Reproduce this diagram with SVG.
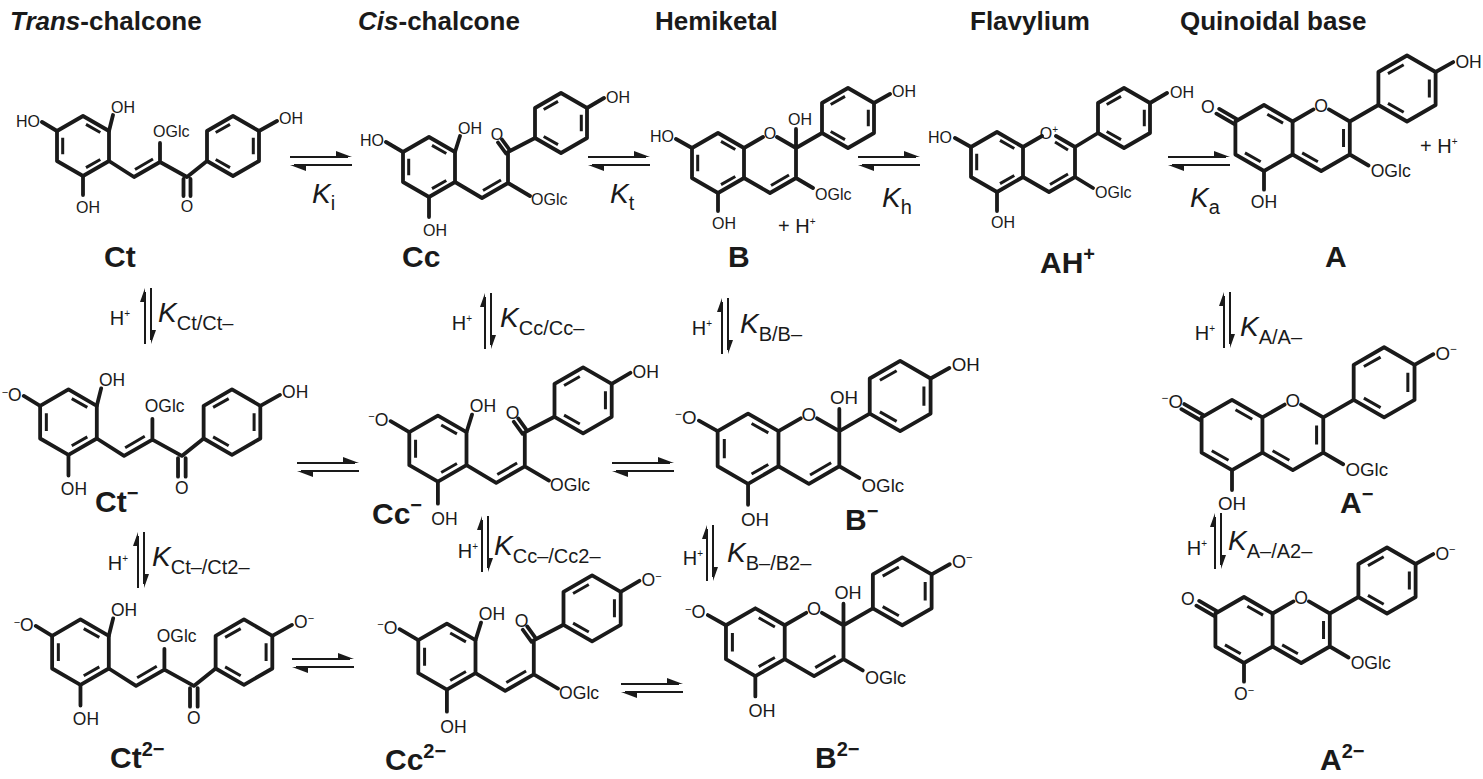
<svg xmlns="http://www.w3.org/2000/svg" xmlns:xlink="http://www.w3.org/1999/xlink" width="1483" height="779" viewBox="0 0 1483 779">
<style>
path,line{vector-effect:non-scaling-stroke}
.sk{fill:none;stroke:#1a1a1a;stroke-width:3.8;stroke-linejoin:round;stroke-linecap:round}
.in{fill:none;stroke:#1a1a1a;stroke-width:3;stroke-linecap:butt}
text{font-family:"Liberation Sans",Arial,sans-serif;fill:#1a1a1a}
.a{font-size:16px}
.s{font-size:10px}
.h{font-size:26px;font-weight:bold}
.lb{font-size:30px;font-weight:bold}
.ls{font-size:20px}
.k{font-size:28px;font-style:italic}
.kb{font-size:20px;font-style:normal}
.hp{font-size:20px}
.arr{stroke:#1a1a1a;stroke-width:2;fill:none}
.ah{fill:#1a1a1a}
</style>
<defs>
<path id="hex" d="M0,-30 L26,-15 L26,15 L0,30 L-26,15 L-26,-15 Z"/>
<path id="inA" d="M3,-21.6 L17.3,-13.5 M17.3,13.5 L3,21.6 M-20.3,8.2 L-20.3,-8.2"/>
<path id="inB" d="M20.3,-8.2 L20.3,8.2 M-3,21.6 L-17.3,13.5 M-17.3,-13.5 L-3,-21.6"/>
<g id="ctSk">
<use href="#hex" x="83" y="146" class="sk"/><use href="#inA" x="83" y="146" class="in"/>
<use href="#hex" x="233" y="146" class="sk"/><use href="#inB" x="233" y="146" class="in"/>
<path class="sk" d="M57,131 L42,122 M109,131 L113,115 M83,176 L83,195 M109,161 L134,177 L160,162 L187,177 L207,161 M160,162 L160,143 M183.5,179 V196 M190.5,179 V196 M259,131 L277,121"/>
<path class="in" d="M135,169.5 L153,159"/>
</g>
<g id="ccSk">
<use href="#hex" x="429" y="167" class="sk"/><use href="#inA" x="429" y="167" class="in"/>
<use href="#hex" x="561" y="123" class="sk"/><use href="#inB" x="561" y="123" class="in"/>
<path class="sk" d="M403,152 L386,142 M455,152 L460,136 M429,197 V217 M455,182 L482,198 L508,183 L530,196 M508,183 V152 L535,138 M510,150.5 L502,139.5 M506,153.5 L498,142.5 M587,108 L604,98"/>
<path class="in" d="M483,190.5 L501,180"/>
</g>
<g id="bSk">
<use href="#hex" x="718" y="163" class="sk"/><use href="#inA" x="718" y="163" class="in"/>
<use href="#hex" x="848" y="118" class="sk"/><use href="#inB" x="848" y="118" class="in"/>
<path class="sk" d="M744,148 L763,137 M777,137 L796,148 L796,178 L770,193 L744,178 M796,148 L822,133 M796,148 V129 M692,148 L676,139 M718,193 V211 M796,178 L813,188 M874,103 L890,94"/>
<path class="in" d="M789,175 L771,185.5"/>
</g>
<g id="ahSk">
<use href="#hex" x="997" y="162" class="sk"/><use href="#inA" x="997" y="162" class="in"/>
<use href="#hex" x="1124" y="118" class="sk"/><use href="#inB" x="1124" y="118" class="in"/>
<path class="sk" d="M1023,147 L1042,136 M1056,136 L1075,147 L1075,177 L1049,192 L1023,177 M1075,147 L1098,133 M971,147 L955,138 M997,192 V211 M1075,177 L1093,188 M1150,103 L1167,93"/>
<path class="in" d="M1055,142 L1068,150 M1068,174 L1050,184.5"/>
</g>
<g id="aSk">
<use href="#hex" class="sk"/>
<path class="in" d="M3,-21.6 L17.3,-13.5 M-3,21.6 L-17.3,13.5 M72.3,-8.2 V8.2 M49,21.6 L34.7,13.5"/>
<use href="#hex" x="130" y="-45" class="sk"/><use href="#inB" x="130" y="-45" class="in"/>
<path class="sk" d="M26,-15 L45,-26 M59,-26 L78,-15 L78,15 L52,30 L26,15 M78,-15 L104,-30 M-24.75,-17.17 L-40.75,-26.4 M-27.25,-12.83 L-43.25,-22.1 M0,30 V47 M78,15 L95,25 M156,-60 L172,-69"/>
</g>
<g id="heq">
<line class="arr" x1="0" y1="0" x2="58" y2="0"/><path class="ah" d="M62,0 L46,-6 L46,0 Z"/>
<line class="arr" x1="4" y1="8" x2="62" y2="8"/><path class="ah" d="M0,8 L16,14 L16,8 Z"/>
</g>
<g id="veq">
<line class="arr" x1="0" y1="4" x2="0" y2="56"/><path class="ah" d="M0,0 L-5,14 L0,14 Z"/>
<line class="arr" x1="6" y1="0" x2="6" y2="52"/><path class="ah" d="M6,56 L11,42 L6,42 Z"/>
</g>
</defs>

<g id="headers">
<text class="h" x="10" y="30"><tspan font-style="italic">Trans</tspan>-chalcone</text>
<text class="h" x="358" y="30"><tspan font-style="italic">Cis</tspan>-chalcone</text>
<text class="h" x="655" y="30">Hemiketal</text>
<text class="h" x="970" y="30">Flavylium</text>
<text class="h" x="1180" y="30">Quinoidal base</text>
</g>

<g id="Ct">
<use href="#ctSk"/>
<text class="a" x="40" y="127" text-anchor="end">HO</text>
<text class="a" x="111" y="113">OH</text>
<text class="a" x="76" y="213">OH</text>
<text class="a" x="153" y="137">OGlc</text>
<text class="a" x="187" y="212" text-anchor="middle">O</text>
<text class="a" x="279" y="124">OH</text>
<text class="lb" x="104" y="267">Ct</text>
</g>
<g id="CtM">
<g transform="translate(-22,263) scale(1.09)">
<use href="#ctSk"/>
<text class="a" x="40" y="127" text-anchor="end"><tspan class="s" dy="-5">−</tspan><tspan dy="5">O</tspan></text>
<text class="a" x="111" y="113">OH</text>
<text class="a" x="76" y="213">OH</text>
<text class="a" x="153" y="137">OGlc</text>
<text class="a" x="187" y="212" text-anchor="middle">O</text>
<text class="a" x="279" y="124">OH</text>
</g>
<text class="lb" x="95" y="512">Ct<tspan class="ls" dy="-12">−</tspan></text>
</g>
<g id="Ct2M">
<g transform="translate(-10,493) scale(1.09)">
<use href="#ctSk"/>
<text class="a" x="40" y="127" text-anchor="end"><tspan class="s" dy="-5">−</tspan><tspan dy="5">O</tspan></text>
<text class="a" x="111" y="113">OH</text>
<text class="a" x="76" y="213">OH</text>
<text class="a" x="153" y="137">OGlc</text>
<text class="a" x="187" y="212" text-anchor="middle">O</text>
<text class="a" x="279" y="124">O<tspan class="s" dy="-6">−</tspan></text>
</g>
<text class="lb" x="110" y="768">Ct<tspan class="ls" dy="-12">2−</tspan></text>
</g>

<g id="Cc">
<use href="#ccSk"/>
<text class="a" x="384" y="146" text-anchor="end">HO</text>
<text class="a" x="458" y="134">OH</text>
<text class="a" x="423" y="236">OH</text>
<text class="a" x="531" y="205">OGlc</text>
<text class="a" x="497" y="140" text-anchor="middle">O</text>
<text class="a" x="606" y="103">OH</text>
<text class="lb" x="402" y="267">Cc</text>
</g>
<g id="CcM">
<g transform="translate(-34,265) scale(1.1)">
<use href="#ccSk"/>
<text class="a" x="384" y="146" text-anchor="end"><tspan class="s" dy="-5">−</tspan><tspan dy="5">O</tspan></text>
<text class="a" x="458" y="134">OH</text>
<text class="a" x="423" y="236">OH</text>
<text class="a" x="531" y="205">OGlc</text>
<text class="a" x="497" y="140" text-anchor="middle">O</text>
<text class="a" x="606" y="103">OH</text>
</g>
<text class="lb" x="372" y="524">Cc<tspan class="ls" dy="-12">−</tspan></text>
</g>
<g id="Cc2M">
<g transform="translate(-25,473) scale(1.1)">
<use href="#ccSk"/>
<text class="a" x="384" y="146" text-anchor="end"><tspan class="s" dy="-5">−</tspan><tspan dy="5">O</tspan></text>
<text class="a" x="458" y="134">OH</text>
<text class="a" x="423" y="236">OH</text>
<text class="a" x="531" y="205">OGlc</text>
<text class="a" x="497" y="140" text-anchor="middle">O</text>
<text class="a" x="606" y="103">O<tspan class="s" dy="-6">−</tspan></text>
</g>
<text class="lb" x="385" y="770">Cc<tspan class="ls" dy="-12">2−</tspan></text>
</g>

<g id="B">
<use href="#bSk"/>
<text class="a" x="770" y="139" text-anchor="middle">O</text>
<text class="a" x="788" y="125">OH</text>
<text class="a" x="674" y="142" text-anchor="end">HO</text>
<text class="a" x="712" y="229">OH</text>
<text class="a" x="815" y="200">OGlc</text>
<text class="a" x="892" y="97">OH</text>
<text class="hp" x="778" y="233">+ H<tspan class="s" dy="-8" font-size="13">+</tspan></text>
<text class="lb" x="728" y="267">B</text>
</g>
<g id="BM">
<g transform="translate(-92,258) scale(1.17)">
<use href="#bSk"/>
<text class="a" x="770" y="139" text-anchor="middle">O</text>
<text class="a" x="788" y="125">OH</text>
<text class="a" x="674" y="142" text-anchor="end"><tspan class="s" dy="-5">−</tspan><tspan dy="5">O</tspan></text>
<text class="a" x="712" y="229">OH</text>
<text class="a" x="815" y="200">OGlc</text>
<text class="a" x="892" y="97">OH</text>
</g>
<text class="lb" x="845" y="530">B<tspan class="ls" dy="-12">−</tspan></text>
</g>
<g id="B2M">
<g transform="translate(-56,458) scale(1.13)">
<use href="#bSk"/>
<text class="a" x="770" y="139" text-anchor="middle">O</text>
<text class="a" x="788" y="125">OH</text>
<text class="a" x="674" y="142" text-anchor="end"><tspan class="s" dy="-5">−</tspan><tspan dy="5">O</tspan></text>
<text class="a" x="712" y="229">OH</text>
<text class="a" x="815" y="200">OGlc</text>
<text class="a" x="892" y="97">O<tspan class="s" dy="-6">−</tspan></text>
</g>
<text class="lb" x="815" y="768">B<tspan class="ls" dy="-12">2−</tspan></text>
</g>

<g id="AH">
<use href="#ahSk"/>
<text class="a" x="1049" y="139" text-anchor="middle">O<tspan class="s" dy="-6">+</tspan></text>
<text class="a" x="952" y="143" text-anchor="end">HO</text>
<text class="a" x="991" y="228">OH</text>
<text class="a" x="1095" y="198">OGlc</text>
<text class="a" x="1170" y="98">OH</text>
<text class="lb" x="1040" y="273">AH<tspan class="ls" dy="-12">+</tspan></text>
</g>

<g id="A">
<g transform="translate(1264,138) scale(1.1)">
<use href="#aSk"/>
<text class="a" x="52" y="-24" text-anchor="middle">O</text>
<text class="a" x="-51" y="-23" text-anchor="middle">O</text>
<text class="a" x="0" y="64" text-anchor="middle">OH</text>
<text class="a" x="97" y="35">OGlc</text>
<text class="a" x="174" y="-64">OH</text>
</g>
<text class="hp" x="1420" y="153">+ H<tspan class="s" dy="-8" font-size="13">+</tspan></text>
<text class="lb" x="1325" y="267">A</text>
</g>
<g id="AM">
<g transform="translate(1232,435) scale(1.17)">
<use href="#aSk"/>
<text class="a" x="52" y="-24" text-anchor="middle">O</text>
<text class="a" x="-51" y="-23" text-anchor="middle"><tspan class="s" dy="-5">−</tspan><tspan dy="5">O</tspan></text>
<text class="a" x="0" y="64" text-anchor="middle">OH</text>
<text class="a" x="97" y="35">OGlc</text>
<text class="a" x="174" y="-64">O<tspan class="s" dy="-6">−</tspan></text>
</g>
<text class="lb" x="1340" y="513">A<tspan class="ls" dy="-12">−</tspan></text>
</g>
<g id="A2M">
<g transform="translate(1244,630) scale(1.1)">
<use href="#aSk"/>
<text class="a" x="52" y="-24" text-anchor="middle">O</text>
<text class="a" x="-51" y="-23" text-anchor="middle">O</text>
<text class="a" x="0" y="64" text-anchor="middle">O<tspan class="s" dy="-6">−</tspan></text>
<text class="a" x="97" y="35">OGlc</text>
<text class="a" x="174" y="-64">O<tspan class="s" dy="-6">−</tspan></text>
</g>
<text class="lb" x="1320" y="770">A<tspan class="ls" dy="-12">2−</tspan></text>
</g>

<g id="connectors">
<use href="#heq" x="290" y="157"/>
<use href="#heq" x="588" y="157"/>
<use href="#heq" x="858" y="157"/>
<use href="#heq" x="1168" y="157"/>
<use href="#heq" x="297" y="463"/>
<use href="#heq" x="612" y="463"/>
<use href="#heq" x="292" y="659"/>
<use href="#heq" x="621" y="684"/>
<text class="k" x="312" y="203">K<tspan class="kb" dy="7">i</tspan></text>
<text class="k" x="610" y="203">K<tspan class="kb" dy="7">t</tspan></text>
<text class="k" x="882" y="207">K<tspan class="kb" dy="7">h</tspan></text>
<text class="k" x="1190" y="207">K<tspan class="kb" dy="7">a</tspan></text>

<use href="#veq" x="145" y="288"/>
<text class="hp" x="130" y="325" text-anchor="end">H<tspan class="s" font-size="13" dy="-8">+</tspan></text>
<text class="k" x="158" y="322">K<tspan class="kb" dy="8">Ct/Ct–</tspan></text>
<use href="#veq" x="485" y="293"/>
<text class="hp" x="472" y="330" text-anchor="end">H<tspan class="s" font-size="13" dy="-8">+</tspan></text>
<text class="k" x="500" y="327">K<tspan class="kb" dy="8">Cc/Cc–</tspan></text>
<use href="#veq" x="722" y="298"/>
<text class="hp" x="712" y="335" text-anchor="end">H<tspan class="s" font-size="13" dy="-8">+</tspan></text>
<text class="k" x="740" y="333">K<tspan class="kb" dy="8">B/B–</tspan></text>
<use href="#veq" x="1224" y="292"/>
<text class="hp" x="1215" y="340" text-anchor="end">H<tspan class="s" font-size="13" dy="-8">+</tspan></text>
<text class="k" x="1240" y="336">K<tspan class="kb" dy="8">A/A–</tspan></text>

<use href="#veq" x="138" y="532"/>
<text class="hp" x="128" y="570" text-anchor="end">H<tspan class="s" font-size="13" dy="-8">+</tspan></text>
<text class="k" x="152" y="566">K<tspan class="kb" dy="8">Ct–/Ct2–</tspan></text>
<use href="#veq" x="482" y="516"/>
<text class="hp" x="478" y="558" text-anchor="end">H<tspan class="s" font-size="13" dy="-8">+</tspan></text>
<text class="k" x="494" y="555">K<tspan class="kb" dy="8">Cc–/Cc2–</tspan></text>
<use href="#veq" x="707" y="525"/>
<text class="hp" x="703" y="565" text-anchor="end">H<tspan class="s" font-size="13" dy="-8">+</tspan></text>
<text class="k" x="727" y="562">K<tspan class="kb" dy="8">B–/B2–</tspan></text>
<use href="#veq" x="1215" y="513"/>
<text class="hp" x="1207" y="555" text-anchor="end">H<tspan class="s" font-size="13" dy="-8">+</tspan></text>
<text class="k" x="1228" y="550">K<tspan class="kb" dy="8">A–/A2–</tspan></text>
</g>
</svg>
